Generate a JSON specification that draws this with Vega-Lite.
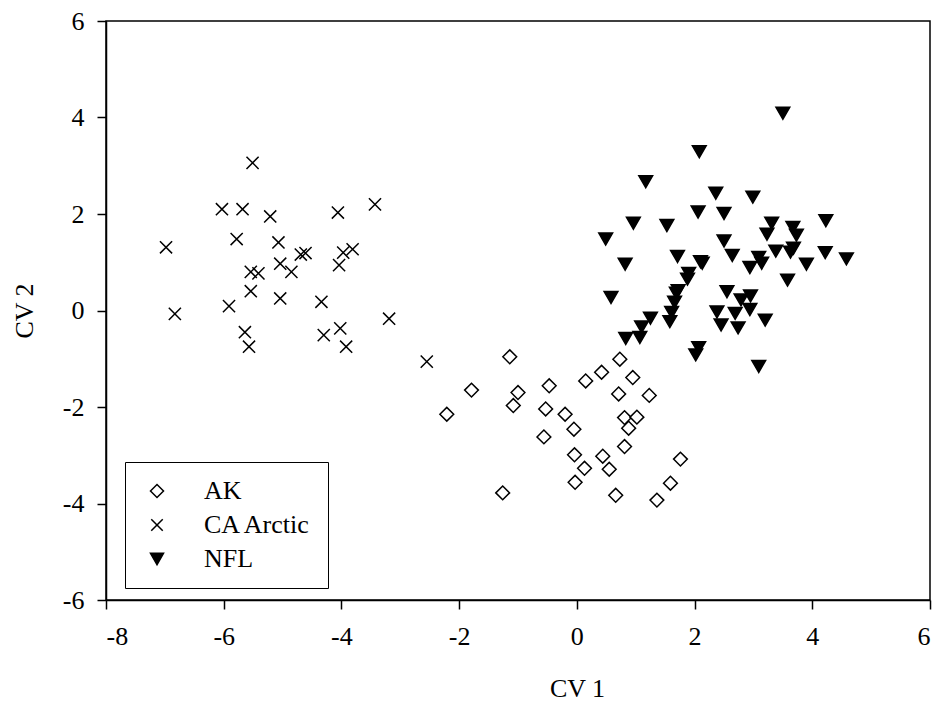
{
  "$schema": "https://vega.github.io/schema/vega-lite/v6.json",
  "width": 824,
  "height": 579,
  "autosize": {"type": "none"},
  "padding": {"left": 106, "top": 21, "right": 12, "bottom": 107},
  "background": "white",
  "config": {
    "font": "Liberation Serif",
    "view": {"stroke": "black", "strokeWidth": 1.5},
    "axis": {
      "grid": false,
      "domainColor": "black",
      "domainWidth": 1.5,
      "tickColor": "black",
      "tickWidth": 1.5,
      "tickSize": 9,
      "labelFont": "Liberation Serif",
      "labelFontSize": 26,
      "labelColor": "black",
      "labelExpr": "toString(datum.value)",
      "titleFont": "Liberation Serif",
      "titleFontSize": 26,
      "titleFontWeight": "normal",
      "titleColor": "black"
    },
    "legend": {
      "title": null,
      "orient": "none",
      "legendX": 19,
      "legendY": 441,
      "strokeColor": "black",
      "padding": 16,
      "symbolOffset": 3,
      "symbolSize": 170,
      "symbolStrokeColor": "black",
      "symbolStrokeWidth": 1.5,
      "labelOffset": 34,
      "labelFontSize": 26,
      "labelFont": "Liberation Serif",
      "labelColor": "black",
      "rowPadding": 8
    }
  },
  "data": {
    "values": [
      {"group": "AK", "x": -1.14, "y": -0.96},
      {"group": "AK", "x": 0.73, "y": -1.01},
      {"group": "AK", "x": 0.42, "y": -1.28},
      {"group": "AK", "x": 0.15, "y": -1.46},
      {"group": "AK", "x": 0.95, "y": -1.39},
      {"group": "AK", "x": -1.79, "y": -1.65},
      {"group": "AK", "x": -0.47, "y": -1.56},
      {"group": "AK", "x": -1.0, "y": -1.7},
      {"group": "AK", "x": 0.71, "y": -1.73},
      {"group": "AK", "x": 1.23, "y": -1.76},
      {"group": "AK", "x": -1.08, "y": -1.97},
      {"group": "AK", "x": -2.21, "y": -2.15},
      {"group": "AK", "x": -0.53, "y": -2.04},
      {"group": "AK", "x": -0.2, "y": -2.15},
      {"group": "AK", "x": 0.81, "y": -2.22},
      {"group": "AK", "x": 1.02, "y": -2.21},
      {"group": "AK", "x": 0.88, "y": -2.44},
      {"group": "AK", "x": -0.05, "y": -2.46},
      {"group": "AK", "x": -0.56, "y": -2.62},
      {"group": "AK", "x": 0.81, "y": -2.82},
      {"group": "AK", "x": -0.04, "y": -2.99},
      {"group": "AK", "x": 0.44, "y": -3.02},
      {"group": "AK", "x": 1.76, "y": -3.08},
      {"group": "AK", "x": 0.13, "y": -3.27},
      {"group": "AK", "x": 0.55, "y": -3.29},
      {"group": "AK", "x": -0.03, "y": -3.56},
      {"group": "AK", "x": 1.59, "y": -3.58},
      {"group": "AK", "x": -1.26, "y": -3.78},
      {"group": "AK", "x": 0.66, "y": -3.83},
      {"group": "AK", "x": 1.36, "y": -3.93},
      {"group": "CA Arctic", "x": -5.51, "y": 3.06},
      {"group": "CA Arctic", "x": -6.03, "y": 2.1},
      {"group": "CA Arctic", "x": -5.68, "y": 2.1},
      {"group": "CA Arctic", "x": -5.21, "y": 1.95},
      {"group": "CA Arctic", "x": -4.06, "y": 2.03},
      {"group": "CA Arctic", "x": -3.43, "y": 2.2},
      {"group": "CA Arctic", "x": -6.98, "y": 1.31},
      {"group": "CA Arctic", "x": -5.78, "y": 1.48},
      {"group": "CA Arctic", "x": -5.07, "y": 1.41},
      {"group": "CA Arctic", "x": -4.69, "y": 1.16},
      {"group": "CA Arctic", "x": -4.61, "y": 1.19},
      {"group": "CA Arctic", "x": -3.97, "y": 1.2},
      {"group": "CA Arctic", "x": -3.81, "y": 1.27},
      {"group": "CA Arctic", "x": -4.04, "y": 0.94},
      {"group": "CA Arctic", "x": -5.04, "y": 0.97},
      {"group": "CA Arctic", "x": -5.54, "y": 0.8},
      {"group": "CA Arctic", "x": -5.41, "y": 0.77},
      {"group": "CA Arctic", "x": -4.85, "y": 0.8},
      {"group": "CA Arctic", "x": -5.54, "y": 0.4},
      {"group": "CA Arctic", "x": -5.04, "y": 0.25},
      {"group": "CA Arctic", "x": -4.34, "y": 0.18},
      {"group": "CA Arctic", "x": -5.91, "y": 0.09},
      {"group": "CA Arctic", "x": -6.83, "y": -0.07},
      {"group": "CA Arctic", "x": -3.19, "y": -0.17},
      {"group": "CA Arctic", "x": -5.64, "y": -0.45},
      {"group": "CA Arctic", "x": -4.3, "y": -0.51},
      {"group": "CA Arctic", "x": -4.02, "y": -0.37},
      {"group": "CA Arctic", "x": -5.57, "y": -0.75},
      {"group": "CA Arctic", "x": -3.92, "y": -0.75},
      {"group": "CA Arctic", "x": -2.55, "y": -1.06},
      {"group": "NFL", "x": 3.5, "y": 4.09},
      {"group": "NFL", "x": 2.08, "y": 3.29},
      {"group": "NFL", "x": 1.17, "y": 2.67},
      {"group": "NFL", "x": 2.36, "y": 2.43},
      {"group": "NFL", "x": 2.99, "y": 2.35},
      {"group": "NFL", "x": 2.06, "y": 2.04},
      {"group": "NFL", "x": 2.5, "y": 2.01},
      {"group": "NFL", "x": 0.96, "y": 1.81},
      {"group": "NFL", "x": 1.53, "y": 1.76},
      {"group": "NFL", "x": 3.31, "y": 1.81},
      {"group": "NFL", "x": 4.23, "y": 1.86},
      {"group": "NFL", "x": 3.67, "y": 1.72},
      {"group": "NFL", "x": 3.23, "y": 1.58},
      {"group": "NFL", "x": 3.73, "y": 1.56},
      {"group": "NFL", "x": 0.49, "y": 1.48},
      {"group": "NFL", "x": 2.5, "y": 1.44},
      {"group": "NFL", "x": 3.38, "y": 1.23},
      {"group": "NFL", "x": 3.68, "y": 1.29},
      {"group": "NFL", "x": 3.63, "y": 1.21},
      {"group": "NFL", "x": 4.22, "y": 1.2},
      {"group": "NFL", "x": 1.71, "y": 1.12},
      {"group": "NFL", "x": 2.1, "y": 1.01},
      {"group": "NFL", "x": 2.13, "y": 0.98},
      {"group": "NFL", "x": 2.64, "y": 1.14},
      {"group": "NFL", "x": 3.09, "y": 1.1},
      {"group": "NFL", "x": 3.14, "y": 0.98},
      {"group": "NFL", "x": 2.94, "y": 0.89},
      {"group": "NFL", "x": 0.82, "y": 0.96},
      {"group": "NFL", "x": 3.9, "y": 0.96},
      {"group": "NFL", "x": 4.58, "y": 1.07},
      {"group": "NFL", "x": 1.9, "y": 0.77},
      {"group": "NFL", "x": 1.88, "y": 0.65},
      {"group": "NFL", "x": 3.58, "y": 0.63},
      {"group": "NFL", "x": 0.58, "y": 0.27},
      {"group": "NFL", "x": 1.72, "y": 0.41},
      {"group": "NFL", "x": 1.69, "y": 0.36},
      {"group": "NFL", "x": 2.55, "y": 0.39},
      {"group": "NFL", "x": 2.95, "y": 0.3},
      {"group": "NFL", "x": 2.79, "y": 0.22},
      {"group": "NFL", "x": 1.66, "y": 0.17},
      {"group": "NFL", "x": 2.94, "y": 0.02},
      {"group": "NFL", "x": 1.61, "y": -0.04},
      {"group": "NFL", "x": 1.58, "y": -0.23},
      {"group": "NFL", "x": 1.25, "y": -0.16},
      {"group": "NFL", "x": 2.38, "y": -0.03},
      {"group": "NFL", "x": 2.69, "y": -0.06},
      {"group": "NFL", "x": 2.45, "y": -0.3},
      {"group": "NFL", "x": 2.74, "y": -0.36},
      {"group": "NFL", "x": 3.2, "y": -0.2},
      {"group": "NFL", "x": 1.1, "y": -0.34},
      {"group": "NFL", "x": 1.07, "y": -0.56},
      {"group": "NFL", "x": 0.83, "y": -0.58},
      {"group": "NFL", "x": 2.07, "y": -0.77},
      {"group": "NFL", "x": 2.02, "y": -0.92},
      {"group": "NFL", "x": 3.09, "y": -1.16}
    ]
  },
  "mark": {"type": "point", "filled": true, "strokeWidth": 1.5, "size": 190, "opacity": 1},
  "encoding": {
    "x": {
      "field": "x", "type": "quantitative",
      "scale": {"domain": [-8, 6], "nice": false, "zero": false},
      "axis": {"title": "CV 1", "values": [-8, -6, -4, -2, 0, 2, 4, 6], "labelPadding": 14, "titleBaseline": "middle", "titleAlign": "center", "titleX": 471, "titleY": 88}
    },
    "y": {
      "field": "y", "type": "quantitative",
      "scale": {"domain": [-6, 6], "nice": false, "zero": false},
      "axis": {"title": "CV 2", "values": [-6, -4, -2, 0, 2, 4, 6], "labelPadding": 13, "titleBaseline": "middle", "titleX": -82, "titleAngle": -90}
    },
    "shape": {
      "field": "group", "type": "nominal",
      "scale": {"domain": ["AK", "CA Arctic", "NFL"], "range": ["diamond", "M-0.88,-0.88L0.88,0.88M-0.88,0.88L0.88,-0.88", "triangle-down"]}
    },
    "fill": {
      "field": "group", "type": "nominal",
      "scale": {"domain": ["AK", "CA Arctic", "NFL"], "range": ["white", "white", "black"]}
    },
    "stroke": {
      "field": "group", "type": "nominal",
      "scale": {"domain": ["AK", "CA Arctic", "NFL"], "range": ["black", "black", "black"]}
    }
  }
}
